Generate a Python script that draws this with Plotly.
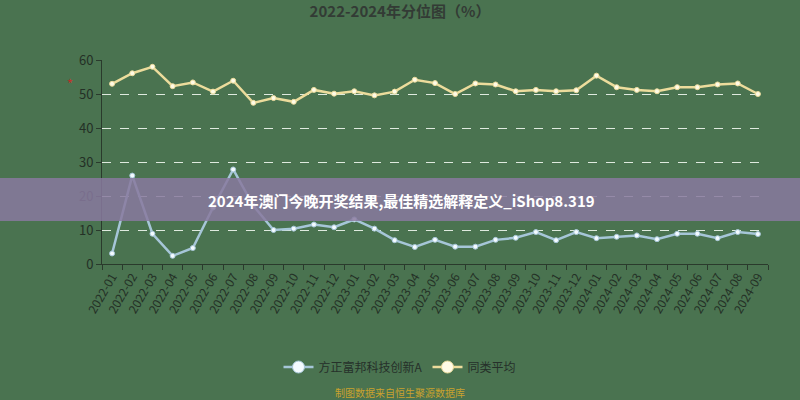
import plotly.graph_objects as go

months = [f"{y}-{m:02d}" for y in (2022, 2023) for m in range(1, 13)] + [f"2024-{m:02d}" for m in range(1, 10)]

fund_values = [3.1, 26.0, 8.9, 2.4, 4.7, 16.6, 27.8, 17.1, 10.0, 10.4, 11.6, 10.8,
               13.1, 10.4, 7.0, 5.0, 7.1, 5.1, 5.1, 7.1, 7.7, 9.4, 7.0, 9.4,
               7.6, 8.0, 8.4, 7.3, 8.9, 8.9, 7.6, 9.4, 8.8]
avg_values = [53.0, 56.1, 58.0, 52.3, 53.4, 50.7, 53.9, 47.4, 48.8, 47.7, 51.2, 50.1,
              50.8, 49.6, 50.7, 54.2, 53.2, 50.0, 53.1, 52.8, 50.8, 51.2, 50.8, 51.1,
              55.4, 52.0, 51.2, 50.8, 52.0, 52.0, 52.8, 53.1, 50.0]

series_names = ["方正富邦科技创新A", "同类平均"]
y_ticks = [0, 10, 20, 30, 40, 50, 60]

title_text = "2022-2024年分位图（%）"
banner_text = "2024年澳门今晚开奖结果,最佳精选解释定义_iShop8.319"
source_text = "制图数据来自恒生聚源数据库"

bg = "#4a7350"
font_family = "Noto Sans CJK SC, Noto Sans, sans-serif"
blue = "#a6c6d8"
yellow = "#ecdc9c"

# target pixel geometry (reference image coordinates)
L, R, T, B = 102, 768, 60, 264
PH = float(B - T)
PW = float(R - L)


def py(y):
    return (B - y) / PH


def px(x):
    return (x - L) / PW


fig = go.Figure()
fig.add_trace(go.Scatter(
    x=months, y=fund_values, name=series_names[0], mode="lines+markers",
    line=dict(color=blue, width=2.5), showlegend=False,
    marker=dict(color="#f4fbff", size=5, line=dict(color=blue, width=1)),
))
fig.add_trace(go.Scatter(
    x=months, y=avg_values, name=series_names[1], mode="lines+markers",
    line=dict(color=yellow, width=2.5), showlegend=False,
    marker=dict(color="#fffbe6", size=5, line=dict(color=yellow, width=1)),
))
# legend entries with larger symbols
fig.add_trace(go.Scatter(
    x=[None], y=[None], name=series_names[0], mode="lines+markers",
    line=dict(color=blue, width=2.5),
    marker=dict(color="#f4fbff", size=12, line=dict(color=blue, width=1)),
))
fig.add_trace(go.Scatter(
    x=[None], y=[None], name=series_names[1], mode="lines+markers",
    line=dict(color=yellow, width=2.5),
    marker=dict(color="#fffbe6", size=12, line=dict(color=yellow, width=1)),
))

fig.update_layout(
    width=800, height=400,
    margin=dict(l=L, r=800 - R, t=T, b=400 - B, pad=0, autoexpand=False),
    paper_bgcolor=bg, plot_bgcolor=bg,
    font=dict(family=font_family, color="#2e3a30", size=11),
    showlegend=True,
    title=dict(text="<b>" + title_text + "</b>", x=0.5, xanchor="center",
               y=1 - 12 / 400, yanchor="middle", font=dict(size=15, color="#333b35")),
    legend=dict(orientation="h", x=px(400), xanchor="center", y=py(367), yanchor="middle",
                font=dict(size=12, color="#26302a"), bgcolor="rgba(0,0,0,0)",
                itemwidth=30, tracegroupgap=0),
    xaxis=dict(type="category", range=[-0.5, len(months) - 0.5], autorange=False,
               tickangle=-60, ticks="outside", ticklen=5,
               tickson="boundaries", tickcolor="#2a3a2c", automargin=False,
               showline=True, linecolor="#2a3a2c", linewidth=1,
               showgrid=False, tickfont=dict(size=12, color="#243026")),
    yaxis=dict(range=[0, 60], autorange=False, tickvals=y_ticks, ticks="outside", ticklen=5,
               tickcolor="#2a3a2c", showline=True, linecolor="#2a3a2c", automargin=False,
               showgrid=True, gridcolor="#dfeadf", griddash="dash", gridwidth=1,
               zeroline=False, tickfont=dict(size=13, color="#243026")),
)

# watermark banner
fig.add_shape(type="rect", xref="paper", yref="paper",
              x0=px(0), x1=px(800), y0=py(221), y1=py(178),
              fillcolor="rgba(136,121,159,0.85)", line=dict(width=0), layer="above")
fig.add_annotation(xref="paper", yref="paper", x=px(401), y=py(200),
                   xanchor="center", yanchor="middle",
                   text="<b>" + banner_text + "</b>", showarrow=False,
                   font=dict(size=15, color="#ffffff"))
fig.add_annotation(xref="paper", yref="paper", x=px(70), y=py(83),
                   xanchor="center", yanchor="middle",
                   text="*", showarrow=False, font=dict(size=13, color="#c0302a"))
fig.add_annotation(xref="paper", yref="paper", x=px(400), y=py(392),
                   xanchor="center", yanchor="middle",
                   text=source_text, showarrow=False, font=dict(size=10, color="#c9a22e"))

fig.write_html("out.html", config={"displayModeBar": False},
               post_script="document.body.style.margin='0';document.body.style.background='#4a7350';")
